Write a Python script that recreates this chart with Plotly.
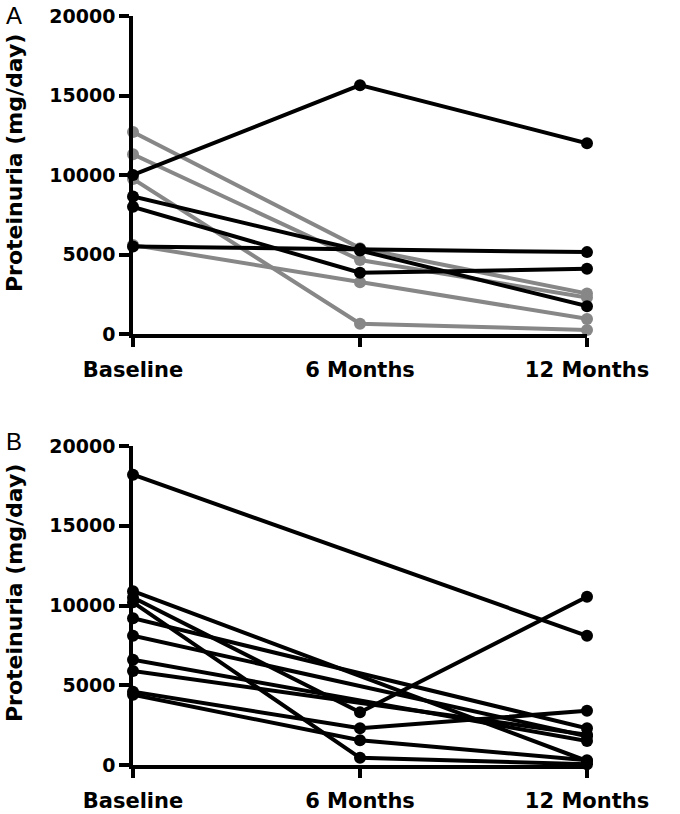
import plotly.graph_objects as go

timepoints = ["Baseline", "6 Months", "12 Months"]
x_pos = [0, 1, 2]
y_ticks = [0, 5000, 10000, 15000, 20000]

# Panel A: proteinuria (mg/day) per patient at baseline, 6 and 12 months
a_gray = [
    [12700, 5400, 2550],
    [11300, 4650, 2300],
    [9750, 650, 250],
    [5600, 3250, 950],
]
a_black = [
    [10000, 15650, 12000],
    [8650, 5250, 1750],
    [8000, 3850, 4100],
    [5500, 5350, 5150],
]

# Panel B
b_black = [
    [18200, None, 8100],
    [10900, None, 250],
    [10500, 3300, 10550],
    [10200, 450, 50],
    [9200, None, 2300],
    [8100, None, 1800],
    [6600, None, 1500],
    [5900, None, 1900],
    [4600, 2300, 3400],
    [4400, 1550, 300],
]

GRAY = "#878787"
BLACK = "#000000"

fig = go.Figure()

def add_series(vals, color, xa, ya):
    fig.add_trace(go.Scatter(
        x=x_pos, y=vals, mode="lines+markers",
        line=dict(color=color, width=4),
        marker=dict(color=color, size=12),
        connectgaps=True, cliponaxis=False, showlegend=False,
        xaxis=xa, yaxis=ya, hoverinfo="y",
    ))

for s in a_gray:
    add_series(s, GRAY, "x", "y")
for s in a_black:
    add_series(s, BLACK, "x", "y")
for s in b_black:
    add_series(s, BLACK, "x2", "y2")

FONT = "DejaVu Sans, sans-serif"
xtickfont = dict(family=FONT, size=21, color="black", weight="bold")
ytickfont = dict(family=FONT, size=19, color="black", weight="bold")

xcommon = dict(
    range=[0, 2], tickvals=x_pos, ticktext=timepoints,
    showline=True, linecolor="black", linewidth=3.5,
    ticks="outside", ticklen=9, tickwidth=3.5, tickcolor="black",
    ticklabelstandoff=5,
    showgrid=False, zeroline=False, tickfont=xtickfont, fixedrange=True,
)
ycommon = dict(
    range=[0, 20000], tickvals=y_ticks, ticktext=[str(v) for v in y_ticks],
    showline=True, linecolor="black", linewidth=3.5,
    ticks="outside", ticklen=10, tickwidth=3.5, tickcolor="black",
    showgrid=False, zeroline=False, tickfont=ytickfont, fixedrange=True,
)

H = 814
W = 680
L, R = 133, 93
t, b = 16, 49
ph = H - t - b
pw = W - L - R
a_bottom = (H - 334 - b) / ph
b_top = (H - 446 - b) / ph

fig.update_layout(
    width=W, height=H,
    margin=dict(l=L, r=R, t=t, b=b, autoexpand=False),
    paper_bgcolor="white", plot_bgcolor="white",
    xaxis=dict(domain=[0, 1], anchor="y", **xcommon),
    yaxis=dict(domain=[a_bottom, 1], anchor="x", **ycommon),
    xaxis2=dict(domain=[0, 1], anchor="y2", **xcommon),
    yaxis2=dict(domain=[0, b_top], anchor="x2", **ycommon),
)

def px_x(p):
    return (p - L) / pw

def px_y(p):
    return (H - b - p) / ph

for ycen in [163, 593]:
    fig.add_annotation(
        text="Proteinuria (mg/day)", xref="paper", yref="paper",
        x=px_x(14), y=px_y(ycen), textangle=-90, showarrow=False,
        xanchor="center", yanchor="middle",
        font=dict(family=FONT, size=22, color="black", weight="bold"),
    )

for lab, ypix in [("A", 0), ("B", 426)]:
    fig.add_annotation(
        text=lab, xref="paper", yref="paper",
        x=px_x(14), y=px_y(ypix), showarrow=False,
        xanchor="center", yanchor="top",
        font=dict(family="Liberation Sans, Arial, sans-serif", size=24, color="black"),
    )

fig.write_html(
    "out.html",
    config={"displayModeBar": False},
    post_script="document.body.style.margin='0px';document.body.style.padding='0px';",
)
